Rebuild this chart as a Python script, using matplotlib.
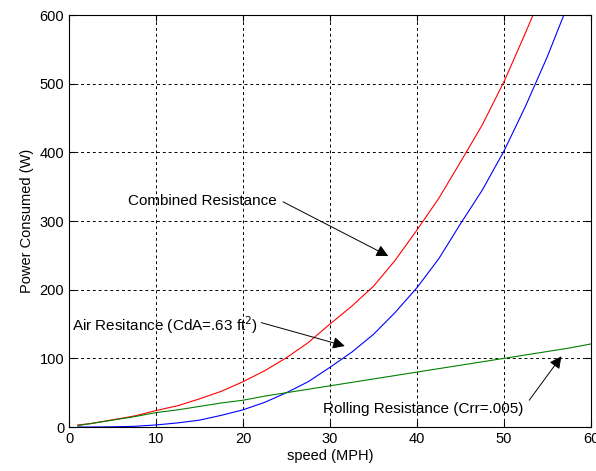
import matplotlib
matplotlib.use('Agg')
import matplotlib.pyplot as plt

plt.rcParams['font.family'] = ['Liberation Sans', 'DejaVu Sans']

# speed in MPH
speed = [1, 2.5, 5, 7.5, 10, 12.5, 15, 17.5, 20, 22.5, 25, 27.5, 30, 32.5,
         35, 37.5, 40, 42.5, 45, 47.5, 50, 52.5, 55, 57.5, 60]
# power in W
combined = [3, 5, 10.5, 16, 24, 31, 41, 52, 66, 82, 101, 123, 150, 176,
            205, 243, 287, 333, 386, 440, 503, 575, 650, 735, 820]
air = [0, 0, 0.3, 1, 3, 6, 10, 17, 25, 36, 50, 66, 87, 109,
       135, 167, 203, 245, 296, 345, 402, 468, 540, 620, 700]
rolling = [2, 5, 10, 15, 21, 25, 30, 35, 39, 45, 50, 55, 60, 65,
           70, 75, 80, 85, 90, 95, 100, 105, 110, 115, 121]

xticks = [0, 10, 20, 30, 40, 50, 60]
yticks = [0, 100, 200, 300, 400, 500, 600]

fig = plt.figure(figsize=(5.96, 4.71), dpi=100)
ax = fig.add_axes([0.1158, 0.0934, 0.8758, 0.8746])

ax.plot(speed, combined, color='#ff0000', lw=0.8)
ax.plot(speed, air, color='#0000ff', lw=0.8)
ax.plot(speed, rolling, color='#008000', lw=0.8)

ax.set_xlim(0, 60)
ax.set_ylim(0, 600)
ax.set_xticks(xticks)
ax.set_yticks(yticks)
ax.grid(True, color='black', linestyle=(0, (3, 3)), lw=0.7)
ax.tick_params(direction='in', top=True, right=True, labelsize=10.5, length=4)
for s in ax.spines.values():
    s.set_linewidth(0.8)

ax.set_xlabel('speed (MPH)', fontsize=10.5, labelpad=2)
ax.set_ylabel('Power Consumed (W)', fontsize=10.5, labelpad=4)

# labels
ax.text(6.8, 329, 'Combined Resistance', ha='left', va='center', fontsize=11)
ax.text(0.35, 148, 'Air Resitance (CdA=.63 ft$^2$)', ha='left', va='center', fontsize=11)
ax.text(29.2, 26, 'Rolling Resistance (Crr=.005)', ha='left', va='center', fontsize=11)

# arrows
arrow = dict(arrowstyle='-|>', color='black', lw=0.7, mutation_scale=18,
             shrinkA=0, shrinkB=0)
ax.annotate('', xy=(36.7, 249), xytext=(24.6, 328), arrowprops=arrow)
ax.annotate('', xy=(31.7, 118), xytext=(22.1, 152), arrowprops=arrow)
ax.annotate('', xy=(56.6, 103), xytext=(52.9, 39), arrowprops=arrow)

fig.savefig('out.png', dpi=100)
